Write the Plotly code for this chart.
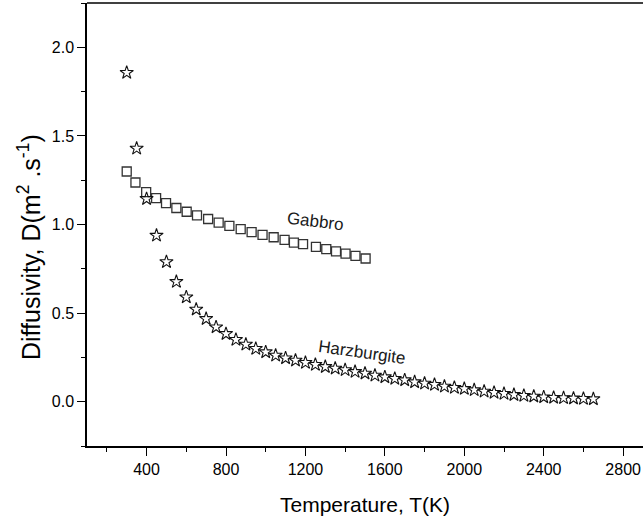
import plotly.graph_objects as go

# Harzburgite (stars)
harz_T = [300, 350, 400, 450, 500, 550, 600, 650, 700, 750, 800, 850, 900, 950,
          1000, 1050, 1100, 1150, 1200, 1250, 1300, 1350, 1400, 1450, 1500, 1550,
          1600, 1650, 1700, 1750, 1800, 1850, 1900, 1950, 2000, 2050, 2100, 2150,
          2200, 2250, 2300, 2350, 2400, 2450, 2500, 2550, 2600, 2650]
harz_D = [1.857, 1.429, 1.145, 0.938, 0.789, 0.677, 0.590, 0.521, 0.468, 0.421,
          0.383, 0.350, 0.323, 0.299, 0.280, 0.261, 0.246, 0.233, 0.220, 0.209,
          0.197, 0.188, 0.179, 0.169, 0.160, 0.148, 0.139, 0.130, 0.122, 0.111,
          0.103, 0.096, 0.086, 0.079, 0.073, 0.066, 0.058, 0.051, 0.045, 0.039,
          0.034, 0.030, 0.026, 0.023, 0.021, 0.019, 0.017, 0.015]

# Gabbro (squares)
gab_T = [300, 344, 398, 448, 498, 550, 602, 654, 710, 763, 817, 874, 929, 984,
         1040, 1095, 1142, 1188, 1253, 1305, 1354, 1402, 1452, 1503]
gab_D = [1.299, 1.237, 1.183, 1.149, 1.121, 1.093, 1.072, 1.051, 1.031, 1.011,
         0.992, 0.974, 0.957, 0.942, 0.928, 0.913, 0.898, 0.889, 0.874, 0.861,
         0.848, 0.836, 0.823, 0.808]

x_ticks = [400, 800, 1200, 1600, 2000, 2400, 2800]
y_ticks = [0.0, 0.5, 1.0, 1.5, 2.0]

FONT = "Arial, Liberation Sans, sans-serif"

fig = go.Figure()
fig.add_trace(go.Scatter(
    x=gab_T, y=gab_D, mode="markers", name="Gabbro",
    marker=dict(symbol="square-open", size=9, color="#333333",
                line=dict(width=1.3, color="#333333")),
))
fig.add_trace(go.Scatter(
    x=harz_T, y=harz_D, mode="markers", name="Harzburgite",
    marker=dict(symbol="star-open", size=10, color="#111111",
                line=dict(width=1.1, color="#111111")),
))

axis_common = dict(
    showline=True, linecolor="black", linewidth=1.5,
    ticks="outside", ticklen=8, tickwidth=1.3, tickcolor="black",
    showgrid=False, zeroline=False,
    tickfont=dict(family=FONT, size=16, color="black"),
)

fig.update_xaxes(
    range=[100, 2900], tickvals=x_ticks, ticktext=[str(v) for v in x_ticks],
    minor=dict(ticks="outside", ticklen=4, tickwidth=1.3, tickcolor="black",
               tick0=0, dtick=200),
    title=dict(text="Temperature, T(K)", font=dict(family=FONT, size=21, color="black"),
               standoff=20),
    **axis_common,
)
fig.update_yaxes(
    range=[-0.25, 2.25], tickvals=y_ticks, ticktext=[f"{v:.1f}" for v in y_ticks],
    minor=dict(ticks="outside", ticklen=4, tickwidth=1.3, tickcolor="black",
               tick0=0, dtick=0.25),
    **axis_common,
)

fig.add_shape(type="line", xref="paper", yref="paper", x0=0, x1=1, y0=1, y1=1,
              line=dict(color="black", width=1.5))

fig.add_annotation(x=1252, y=1.019, text="Gabbro", showarrow=False, textangle=7,
                   font=dict(family=FONT, size=17, color="#1a1a1a"))
fig.add_annotation(x=1487, y=0.279, text="Harzburgite", showarrow=False, textangle=8,
                   font=dict(family=FONT, size=17, color="#1a1a1a"))
fig.add_annotation(xref="paper", yref="paper", x=-0.104, y=0.4495,
                   xanchor="center", yanchor="middle",
                   text="Diffusivity, D(m<sup>2</sup> .s<sup>-1</sup>)",
                   showarrow=False, textangle=-90,
                   font=dict(family=FONT, size=25, color="black"))

fig.update_layout(
    width=643, height=522,
    margin=dict(l=87, r=0, t=3, b=76),
    paper_bgcolor="white", plot_bgcolor="white",
    showlegend=False,
)

fig.write_html("out.html")
